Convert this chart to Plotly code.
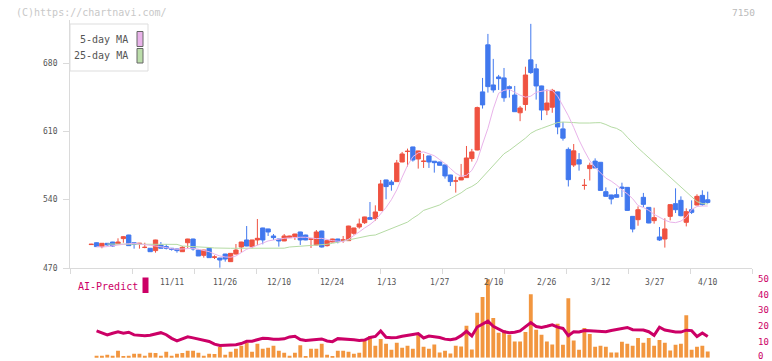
import plotly.graph_objects as go

# ---------------- data ----------------
opens = [494.0, 495.9, 491.9, 495.3, 496.6, 494.9, 500.1, 503.8, 495.9, 495.0,
         491.0, 490.2, 487.8, 493.6, 491.9, 490.2, 489.5, 486.7, 495.9, 499.7,
         488.4, 483.0, 490.2, 481.0, 480.2, 484.3, 476.5, 484.3, 491.5, 498.7,
         491.9, 498.7, 511.0, 510.0, 502.8, 499.7, 497.7, 501.1, 502.1, 506.9,
         503.8, 499.5, 493.6, 507.9, 492.9, 496.6, 499.7, 498.5, 498.0, 505.5,
         512.0, 516.4, 521.6, 520.6, 528.8, 560.2, 558.1, 558.5, 578.6, 589.3,
         594.0, 581.7, 579.2, 584.8, 579.4, 578.6, 575.6, 565.3, 559.0, 560.2,
         562.6, 582.1, 590.9, 650.4, 698.6, 657.5, 665.7, 664.7, 655.7, 647.2,
         629.0, 637.5, 683.2, 674.0, 656.5, 631.8, 634.7, 650.4, 612.5, 591.5,
         575.5, 580.9, 554.5, 571.8, 579.5, 578.3, 548.2, 544.8, 545.1, 552.9,
         552.6, 522.9, 519.5, 542.4, 532.1, 518.5, 501.8, 499.7, 522.9, 535.9,
         539.3, 516.8, 529.7, 534.5, 544.4, 539.9]
highs = [494.8, 496.2, 495.5, 495.6, 496.8, 500.4, 502.8, 504.0, 496.6, 495.6,
         495.9, 490.5, 498.9, 496.6, 494.3, 490.5, 489.8, 492.5, 499.9, 500.0,
         488.6, 488.6, 490.4, 483.0, 480.4, 484.5, 485.2, 494.6, 496.8, 513.0,
         498.9, 520.2, 511.2, 510.2, 504.8, 500.0, 504.8, 503.0, 505.0, 507.1,
         504.0, 499.9, 508.9, 508.1, 499.0, 499.9, 499.9, 502.8, 513.2, 511.2,
         520.6, 522.5, 537.6, 534.2, 560.2, 560.4, 560.2, 580.7, 588.9, 592.3,
         594.2, 590.1, 586.8, 585.0, 579.6, 578.8, 575.8, 565.5, 563.6, 576.6,
         595.0, 592.0, 635.3, 664.7, 709.8, 684.2, 667.8, 674.9, 657.0, 656.5,
         636.0, 676.2, 720.1, 679.1, 656.7, 653.0, 653.5, 650.6, 619.6, 593.5,
         597.0, 587.7, 561.2, 577.9, 582.3, 578.5, 552.6, 545.0, 551.6, 557.4,
         552.8, 523.1, 533.1, 546.9, 532.3, 531.8, 512.0, 520.9, 535.1, 551.6,
         543.4, 531.1, 539.3, 545.5, 549.6, 548.2]
lows = [493.8, 491.5, 490.2, 493.0, 491.5, 494.6, 495.9, 492.9, 489.8, 489.8,
        490.2, 486.7, 485.7, 490.0, 489.0, 487.8, 485.7, 486.5, 490.2, 487.8,
        482.3, 480.6, 480.6, 479.2, 470.3, 476.5, 476.3, 484.0, 485.7, 492.3,
        490.2, 493.6, 494.3, 502.8, 498.7, 491.9, 497.5, 500.9, 498.7, 493.6,
        498.5, 490.5, 493.4, 491.0, 492.0, 496.4, 495.3, 495.9, 497.8, 504.0,
        510.3, 515.1, 519.7, 518.5, 528.6, 540.4, 549.2, 558.3, 578.4, 573.9,
        579.0, 571.8, 572.5, 572.5, 567.7, 575.0, 561.6, 554.0, 547.2, 560.0,
        562.4, 579.0, 590.5, 633.3, 649.7, 649.7, 652.4, 640.3, 644.6, 630.0,
        620.4, 631.2, 668.8, 642.5, 621.5, 626.6, 629.0, 607.0, 600.5, 553.5,
        573.5, 569.7, 550.2, 559.6, 572.3, 549.3, 543.2, 535.2, 542.2, 542.7,
        528.8, 506.5, 513.3, 532.5, 515.9, 515.4, 497.7, 490.9, 518.8, 526.3,
        522.9, 512.6, 525.3, 534.3, 533.8, 535.9]
closes = [494.3, 491.9, 495.3, 493.6, 492.5, 496.6, 502.1, 492.9, 494.3, 495.3,
          491.2, 486.7, 498.7, 490.2, 490.2, 489.2, 487.8, 491.2, 499.7, 489.5,
          482.3, 488.4, 480.6, 481.3, 478.2, 479.2, 485.0, 488.4, 496.6, 492.5,
          498.7, 500.4, 498.7, 506.9, 501.1, 497.7, 502.8, 502.8, 504.8, 498.7,
          498.7, 499.7, 506.9, 491.5, 498.0, 499.7, 497.0, 498.7, 513.0, 511.0,
          515.1, 522.3, 519.9, 527.4, 556.1, 553.4, 555.4, 577.6, 586.8, 589.6,
          580.7, 589.9, 579.4, 578.6, 577.9, 575.2, 564.3, 558.5, 559.2, 562.9,
          582.7, 588.9, 634.3, 637.1, 655.8, 652.4, 664.0, 644.4, 654.0, 630.1,
          633.9, 667.7, 670.2, 656.5, 631.8, 639.0, 652.0, 614.5, 603.0, 560.5,
          590.0, 576.5, 554.7, 575.2, 572.5, 549.5, 543.4, 540.7, 542.4, 551.6,
          529.0, 509.9, 529.7, 535.2, 516.1, 521.6, 498.7, 510.0, 534.9, 529.7,
          523.6, 527.7, 527.0, 543.4, 534.9, 537.2]

# 5-day MA (from candle 1), 25-day MA (from candle 3)
ma5 = [491.9, 491.5, 491.9, 492.9, 493.6, 494.3, 494.9, 495.3, 494.6, 494.3,
       493.3, 492.5, 491.9, 490.9, 489.8, 489.2, 489.5, 490.2, 490.2, 489.2,
       487.8, 486.7, 484.3, 482.3, 481.3, 481.0, 482.3, 485.7, 489.2, 491.2,
       493.3, 495.9, 497.7, 498.7, 499.7, 500.4, 500.8, 501.5, 501.5, 501.5,
       500.8, 500.1,
       500.4, 499.0, 498.0, 497.5, 497.0, 499.5, 503.0, 507.0, 511.0, 514.5,
       519.0, 525.0, 532.0, 540.0, 550.0, 563.0, 575.0, 584.0, 588.0, 589.0,
       587.0, 585.0, 581.0, 577.0, 572.0, 567.0, 564.0,
       565.0, 570.0, 580.0, 597.0, 613.0, 633.0, 649.0, 652.0, 653.0, 650.0,
       647.0, 645.0, 646.0, 650.0, 651.0, 652.0, 652.0,
       646.0, 636.0, 626.0, 614.0, 601.0, 590.0, 580.0, 573.0, 567.0, 562.0,
       559.0, 555.0, 550.0, 546.0, 541.0, 534.0, 532.0, 529.0, 525.0, 522.0,
       519.0, 517.0, 516.5, 518.0, 522.0, 530.0, 533.0, 533.5, 533.5]
ma25 = [494.5, 494.5, 494.5, 494.5, 494.5, 494.4, 494.4, 494.3, 494.3, 494.3,
        494.3, 494.3, 494.3, 494.2,
        492.5, 492.3, 492.3, 492.0, 491.5, 491.0, 490.5, 490.2, 490.2, 490.2,
        490.2, 490.2, 490.2, 490.2, 490.2, 490.2, 490.2, 490.2, 490.2, 490.3,
        491.5, 491.8, 492.5, 493.0, 493.0, 493.0,
        493.5, 494.3, 495.3, 496.5, 497.5, 498.7, 500.0, 501.5, 502.8, 503.3,
        503.8, 506.0, 508.5, 510.7, 512.5, 514.5, 517.0, 521.0, 524.5, 529.0,
        531.0, 533.0, 534.6, 538.0, 541.0, 543.5, 547.0, 551.0, 553.5, 557.0,
        563.0, 570.0, 576.0, 581.0, 587.0, 590.5, 594.5, 599.0, 603.0, 608.0,
        611.0, 613.0, 615.0, 617.0, 619.0, 619.5, 619.5, 619.0, 618.5, 618.3,
        618.5, 618.8, 618.9, 617.0, 614.5, 613.0, 610.0, 604.0, 598.0, 593.0,
        588.0, 583.0, 577.0, 572.0, 567.0, 562.0, 557.0, 552.0, 547.0, 542.0,
        538.0, 536.0, 535.5]

# volume (from candle 1) and AI-Predict (from candle 1)
volume = [2, 2, 3, 2, 7, 1.3, 2, 4, 4, 2,
          5, 4.7, 2, 6, 2, 4, 4.7, 7, 7, 5,
          2, 4, 3.7, 10.7, 3, 6, 9, 12, 15.3, 6,
          14, 9, 10, 12, 7, 5, 2, 5, 12.5, 1.0,
          9, 9, 14, 3, 1, 7, 7, 6, 4, 5,
          17, 22, 12, 19, 14, 8, 15, 10, 12, 9,
          23, 11, 9,
          13.3, 5.3, 7, 4.3, 12, 11.3, 32.3, 8.3, 45.3, 61.3,
          79.3, 40, 25.3, 27.7, 23.3, 16.3, 16.3, 26, 64, 28.3,
          23.3, 16.3, 13.3, 34.3,
          13, 60, 17.3, 8, 30, 24, 11, 12, 11, 5.3,
          5.3, 16, 14, 12, 20, 15, 20, 12, 18, 15,
          7.3, 13, 14, 43, 8, 11, 12, 6.3]
ai_predict = [17.0, 15.9, 14.5, 15.5, 16.4, 15.5, 16.2, 14.5, 14.2, 14.0,
              14.3, 15.3, 15.9, 14.6, 12.3, 10.7, 11.9, 13.3, 12.6, 11.7,
              11.2, 10.3, 8.6, 7.8, 7.9, 7.9, 8.2, 9.0, 10.4, 10.5,
              11.6, 12.3, 12.2, 11.7, 11.7, 12.0, 13.2, 13.6, 11.5,
              10.9, 11.3, 11.6, 11.9, 10.6, 10.2, 12.1, 12.0, 11.9, 11.4,
              11.0, 11.2, 12.8, 13.5, 17.0, 13.0, 12.7, 12.8, 13.6, 14.0,
              14.8, 15.3, 12.5, 13.8, 13.4, 12.8, 11.8, 11.4, 12.0,
              14.0, 16.8, 13.8, 19.5, 21.5, 23.2, 20.0, 18.0, 16.5, 15.9,
              16.2, 17.0, 19.5, 22.3, 19.8, 19.2, 20.0, 20.9, 19.4,
              18.6, 14.0, 16.5, 16.3, 17.3, 17.2, 17.0, 17.0, 16.5, 17.3,
              17.8, 18.3, 19.2, 17.8, 17.6, 17.6, 16.5, 14.2, 19.4, 17.6,
              17.0, 16.4, 16.3, 17.5, 17.2, 13.4, 15.7, 13.4]

date_labels = ["11/11", "11/26", "12/10", "12/24", "1/13", "1/27",
               "2/10", "2/26", "3/12", "3/27", "4/10"]
date_label_pos = [15, 25, 35, 45, 55, 65, 75, 85, 95, 105, 115]
price_ticks = [470, 540, 610, 680]
ai_ticks = [0, 10, 20, 30, 40, 50]

# ---------------- geometry / styles ----------------
W, H = 772, 361
PX_L, PX_R = 70, 752
PX_TOP, PX_BOT = 20, 268
VOL_TOP, VOL_BOT = 279, 357.7
FIRST_PX, STEP_PX = 91.2, 5.361
PX_PER_UNIT = 0.9762

RED, BLUE = "#EF5241", "#4178EE"
ORANGE, MAGENTA = "#F2963F", "#CC0066"
PINK, GREEN = "#E9B3EA", "#B5DBA4"
AXIS = "#DADADA"
FONT = "DejaVu Sans Mono"


def py(px):
    return (H - px) / H


def pxx(px):
    return px / W


n = len(opens)
idx = list(range(n))
idx_ma5 = idx[n - len(ma5):]
idx_ma25 = idx[n - len(ma25):]
idx_vol = idx[n - len(volume):]
idx_ai = idx[n - len(ai_predict):]

x_range = [(PX_L - FIRST_PX) / STEP_PX, (PX_R - FIRST_PX) / STEP_PX]
y_top = price_ticks[0] + (PX_BOT - PX_TOP) / PX_PER_UNIT
x_tickvals = [x_range[0] + k * (x_range[1] - x_range[0]) / 11 for k in range(12)]

fig = go.Figure()

fig.add_trace(go.Scatter(x=idx_ma25, y=ma25, mode="lines",
                         line=dict(color=GREEN, width=1), hoverinfo="skip"))
fig.add_trace(go.Scatter(x=idx_ma5, y=ma5, mode="lines",
                         line=dict(color=PINK, width=1), hoverinfo="skip"))
fig.add_trace(go.Candlestick(
    x=idx, open=opens, high=highs, low=lows, close=closes,
    increasing=dict(line=dict(color=RED, width=1), fillcolor=RED),
    decreasing=dict(line=dict(color=BLUE, width=1), fillcolor=BLUE),
    whiskerwidth=0, hoverinfo="skip"))

fig.add_trace(go.Bar(x=idx_vol, y=volume, width=0.72, marker=dict(color=ORANGE, line=dict(width=0)),
                     xaxis="x2", yaxis="y2", hoverinfo="skip"))
fig.add_trace(go.Scatter(x=idx_ai, y=ai_predict, mode="lines",
                         line=dict(color=MAGENTA, width=3), xaxis="x2", yaxis="y3",
                         hoverinfo="skip"))

dom_x = [pxx(PX_L), pxx(PX_R)]
fig.update_layout(
    width=W, height=H, margin=dict(l=0, r=0, t=0, b=0, autoexpand=False),
    paper_bgcolor="white", plot_bgcolor="white", showlegend=False,
    boxgap=0.2, boxgroupgap=0,
    font=dict(family=FONT, color="#555555"),
    xaxis=dict(domain=dom_x, range=x_range, anchor="y", showgrid=False, zeroline=False,
               showline=True, linecolor=AXIS, linewidth=1, ticks="outside", ticklen=5,
               tickcolor=AXIS, tickvals=x_tickvals, showticklabels=False,
               rangeslider=dict(visible=False)),
    yaxis=dict(domain=[py(PX_BOT), py(PX_TOP)], range=[price_ticks[0], y_top], anchor="x",
               showgrid=False, zeroline=False, showline=True, linecolor=AXIS, linewidth=1,
               ticks="outside", ticklen=6, tickcolor=AXIS, tickvals=price_ticks,
               showticklabels=False),
    xaxis2=dict(domain=dom_x, range=x_range, anchor="y2", visible=False),
    yaxis2=dict(domain=[py(VOL_BOT), py(VOL_TOP)], range=[0, 79.5], anchor="x2", visible=False),
    yaxis3=dict(overlaying="y2", side="right", anchor="x2", range=[0, 50],
                showgrid=False, zeroline=False, showline=False, ticks="",
                showticklabels=False),
)

shapes = [
    dict(type="rect", xref="paper", yref="paper", x0=pxx(70), x1=pxx(148), y0=py(71), y1=py(24),
         fillcolor="white", line=dict(color="#DDDDDD", width=1), layer="above"),
    dict(type="rect", xref="paper", yref="paper", x0=pxx(137), x1=pxx(143), y0=py(46.5), y1=py(31.5),
         fillcolor=PINK, line=dict(color="#666666", width=1), layer="above"),
    dict(type="rect", xref="paper", yref="paper", x0=pxx(137), x1=pxx(143), y0=py(63), y1=py(48.5),
         fillcolor="#BBDDAA", line=dict(color="#666666", width=1), layer="above"),
    dict(type="rect", xref="paper", yref="paper", x0=pxx(142.5), x1=pxx(148.5), y0=py(293), y1=py(277.5),
         fillcolor=MAGENTA, line=dict(width=0), layer="above"),
]
fig.update_layout(shapes=shapes)

ann = [
    dict(text="(C)https://chartnavi.com/", x=pxx(14), y=py(12.5), xanchor="left", yanchor="middle",
         font=dict(size=10, color="#C8C8C8", family=FONT)),
    dict(text="7150", x=pxx(757), y=py(12.5), xanchor="right", yanchor="middle",
         font=dict(size=9.5, color="#BBBBBB", family=FONT)),
    dict(text="5-day MA", x=pxx(130), y=py(39.5), xanchor="right", yanchor="middle",
         font=dict(size=10, color="#555555", family=FONT)),
    dict(text="25-day MA", x=pxx(130), y=py(56), xanchor="right", yanchor="middle",
         font=dict(size=10, color="#555555", family=FONT)),
    dict(text="AI-Predict", x=pxx(76), y=py(286), xanchor="left", yanchor="middle",
         font=dict(size=10, color=MAGENTA, family=FONT)),
]
for a in ann:
    a.update(xref="paper", yref="paper", showarrow=False)
for lab, pos in zip(date_labels, date_label_pos):
    ann.append(dict(text=lab, x=pos, y=py(282.5), xref="x", yref="paper", xanchor="center",
                    yanchor="middle", showarrow=False,
                    font=dict(size=8, color="#555555", family=FONT)))
# price axis labels
for v in price_ticks:
    ann.append(dict(text=str(v), x=pxx(60), y=v, xref="paper", yref="y", xanchor="right",
                    yanchor="middle", showarrow=False,
                    font=dict(size=8, color="#555555", family=FONT)))
# AI-Predict axis labels (right side); the lowest one is kept inside the page
for v in ai_ticks:
    ann.append(dict(text=str(v), x=pxx(756), y=v, xref="paper", yref="y3", xanchor="left",
                    yanchor="middle", showarrow=False, yshift=2 if v == ai_ticks[0] else 0,
                    font=dict(size=9, color=MAGENTA, family=FONT)))
fig.update_layout(annotations=ann)

fig.write_html("out.html", config={"displayModeBar": False},
               post_script="document.body.style.margin='0';document.body.style.overflow='hidden';")
